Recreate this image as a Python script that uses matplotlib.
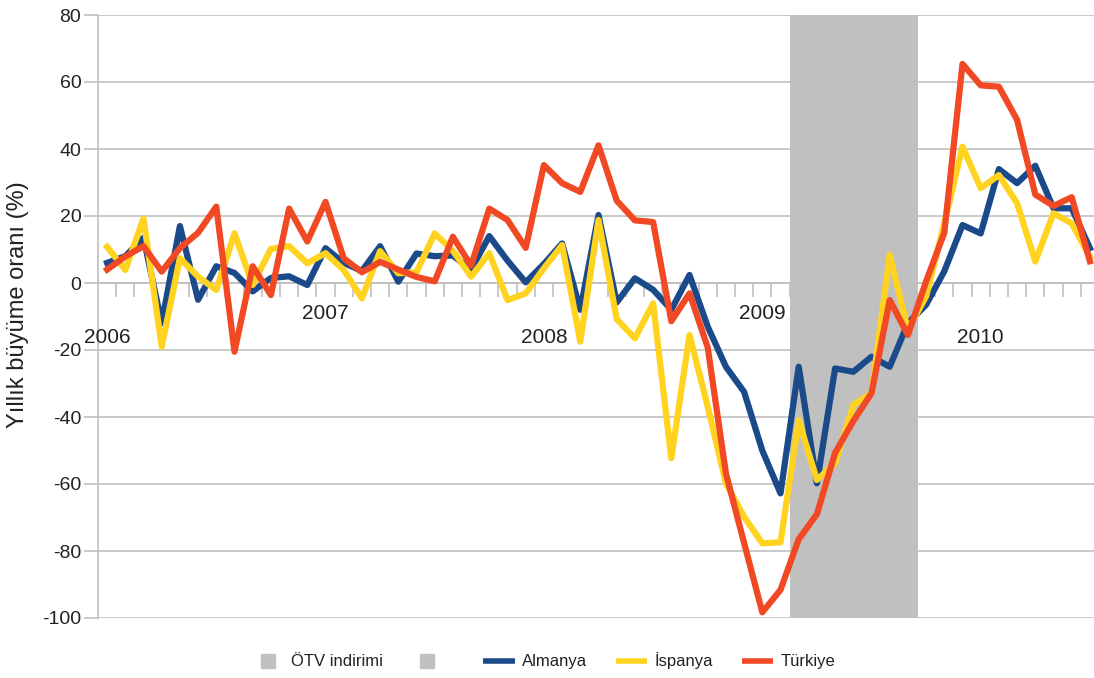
import matplotlib
matplotlib.use("Agg")
import matplotlib.pyplot as plt
from matplotlib.lines import Line2D
import numpy as np

plt.rcParams['font.family'] = ['Liberation Sans', 'DejaVu Sans']
plt.rcParams['axes.unicode_minus'] = False

# monthly data, Jan 2006 - Jul 2010 (yillik buyume orani, %)
almanya = [6, 8, 13.5, -12, 17, -5, 5, 3, -2.5, 1.5, 2, -0.6, 10.4, 6, 3.6,
           11, 0.4, 8.8, 8, 8.2, 4, 14, 6.7, 0.2, 5.7, 11.8, -8, 20.3, -5.8,
           1.4, -2, -8, 2.4, -13, -25, -32.5, -50, -62.8, -25, -59.8, -25.5,
           -26.5, -22, -25, -12, -6.5, 3.5, 17.3, 14.8, 34, 29.8, 35, 22.3,
           22.3, 10.4]
ispanya = [10.8, 3.9, 19.3, -19, 7.4, 1.9, -2.1, 14.8, -0.6, 10.2, 11, 5.9,
           8.9, 3.9, -4.6, 9.5, 2.9, 3.2, 14.8, 9.6, 1.9, 8.9, -5.1, -3.1,
           4.4, 11.3, -17.5, 18.8, -10.8, -16.5, -6.1, -52.3, -15.5, -36.9,
           -59.8, -69.8, -77.7, -77.4, -41, -58.8, -53.8, -36.4, -32.9, 8.4,
           -14, -4, 17.8, 40.7, 28.3, 32.2, 23.8, 6.4, 20.8, 17.8, 7.8]
turkiye = [4, 7.9, 11, 3.4, 10.4, 15, 22.8, -20.5, 5, -3.6, 22.2, 12.4, 24.2,
           7.4, 3.2, 6.3, 4, 1.8, 0.5, 13.8, 5.2, 22.2, 18.8, 10.5, 35.2, 29.8,
           27.2, 41.1, 24.6, 18.7, 18.2, -11.4, -3.1, -19.2, -56.8, -77.6,
           -98.3, -91.6, -76.5, -69, -50.7, -41.2, -32.9, -5.1, -15.5, 0.5, 15,
           65.4, 59, 58.6, 48.7, 26.4, 23, 25.6, 6.5]
years = ['2006', '2007', '2008', '2009', '2010']
year_idx = [0, 12, 24, 36, 48]
otv_start, otv_end = 37.5, 44.55   # OTV indirimi, Mar - Sep 2009

c_blue = '#1b4a8a'
c_yellow = '#ffd320'
c_red = '#f04923'
c_grid = '#c0c0c0'
c_text = '#222222'

x = np.arange(len(turkiye))

fig = plt.figure(figsize=(10.94, 6.78), dpi=100)
ax = fig.add_axes([98 / 1094, 1 - 618 / 678, 1 - 98 / 1094, (618 - 15) / 678])

ax.set_axisbelow(True)
ax.yaxis.grid(True, color=c_grid, linewidth=1.2)
ax.axvspan(otv_start, otv_end, color='#c0c0c0', lw=0, zorder=2.6)

ax.plot(x, almanya, color=c_blue, lw=4.5, zorder=3, solid_joinstyle='round')
ax.plot(x, ispanya, color=c_yellow, lw=4.5, zorder=3, solid_joinstyle='round')
ax.plot(x, turkiye, color=c_red, lw=4.5, zorder=3, solid_joinstyle='round')

ax.set_ylim(-100, 80)
ax.set_yticks(np.arange(-100, 81, 20))
ax.set_xlim(-0.5, -0.5 + (1094 - 98) / 18.2)
ax.set_xticks(x[:-1] + 0.5)
ax.set_xticklabels([])

for s in ['top', 'right']:
    ax.spines[s].set_visible(False)
ax.spines['bottom'].set_position(('data', 0))
ax.spines['bottom'].set_color(c_grid)
ax.spines['bottom'].set_linewidth(1.2)
ax.spines['left'].set_color(c_grid)
ax.spines['left'].set_linewidth(1.2)
ax.tick_params(axis='x', direction='out', length=10, width=1.2, color=c_grid)
ax.tick_params(axis='y', direction='out', length=10, width=1.2, color=c_grid,
               labelsize=14, labelcolor=c_text, pad=2)

# staggered year labels
for i, (yr, k) in enumerate(zip(years, year_idx)):
    yv = -16.2 if i % 2 == 0 else -9
    ax.text(k, yv, yr, ha='center', va='center', fontsize=15, color=c_text)

ax.set_ylabel('Yıllık büyüme oranı (%)', fontsize=17, color=c_text)
ax.yaxis.set_label_coords(-0.069, 0.52)

handles = [Line2D([], [], marker='s', ms=10, color='#c0c0c0', ls='none'),
           Line2D([], [], marker='s', ms=10, color='#c0c0c0', ls='none'),
           Line2D([], [], color=c_blue, lw=4, solid_capstyle='butt'),
           Line2D([], [], color=c_yellow, lw=4, solid_capstyle='butt'),
           Line2D([], [], color=c_red, lw=4, solid_capstyle='butt')]
labels = ['ÖTV indirimi', ' ', 'Almanya', 'İspanya', 'Türkiye']
fig.legend(handles, labels, loc='center', bbox_to_anchor=(0.497, 1 - 661 / 678),
           ncol=5, frameon=False, fontsize=12, handlelength=1.9,
           columnspacing=1.7, handletextpad=0.45, labelcolor=c_text)

fig.savefig('out.png', dpi=100)
